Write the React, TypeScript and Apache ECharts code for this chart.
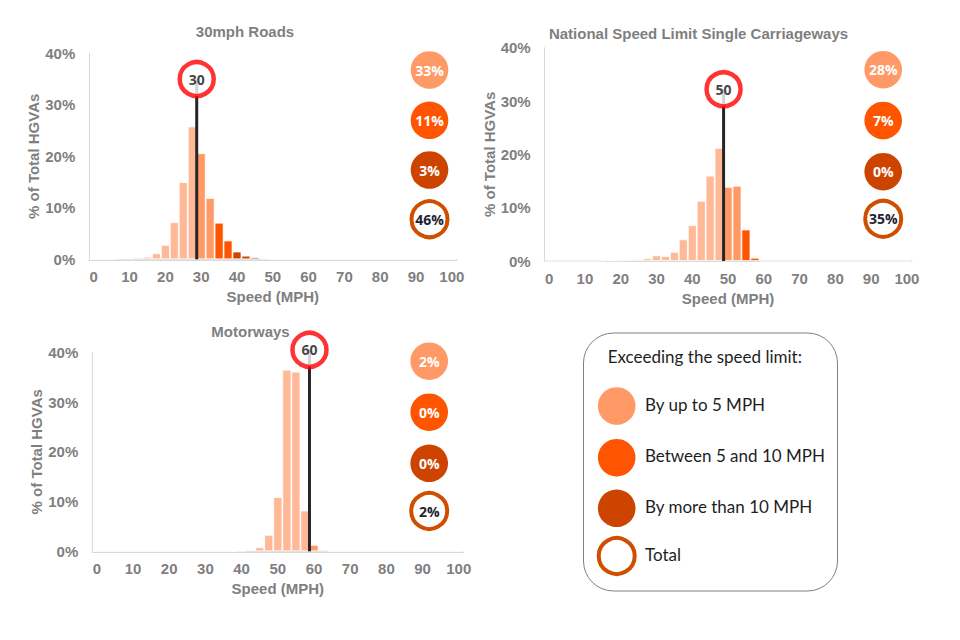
import React, { useEffect, useRef } from "react";
import * as echarts from "echarts";

// ---- Data ----
const speedBins = [
  "0", "2.5", "5", "7.5", "10", "12.5", "15", "17.5", "20", "22.5",
  "25", "27.5", "30", "32.5", "35", "37.5", "40", "42.5", "45", "47.5",
  "50", "52.5", "55", "57.5", "60", "62.5", "65", "67.5", "70", "72.5",
  "75", "77.5", "80", "82.5", "85", "87.5", "90", "92.5", "95", "97.5", "100",
];
const binWidth = 2.5;

const roads30 = [
  0, 0, 0, 0.15, 0.2, 0.35, 0.5, 1.15, 2.8, 7.2,
  15, 25.8, 20.6, 11.9, 7.1, 3.65, 1.5, 0.7, 0.4, 0.15,
  0, 0, 0, 0, 0, 0, 0, 0, 0, 0,
  0, 0, 0, 0, 0, 0, 0, 0, 0, 0, 0,
];
const nslSingle = [
  0, 0, 0, 0, 0, 0, 0.1, 0.12, 0.12, 0.25,
  0.3, 0.5, 1.06, 0.93, 1.7, 4.05, 6.7, 11.3, 16, 21.2,
  13.9, 14.1, 5.9, 0.6, 0, 0, 0, 0, 0, 0,
  0, 0, 0, 0, 0, 0, 0, 0, 0, 0, 0,
];
const motorways = [
  0, 0, 0, 0, 0, 0, 0, 0, 0, 0,
  0, 0, 0, 0, 0, 0, 0.1, 0.3, 0.8, 3.3,
  10.9, 36.5, 36.1, 8.2, 1.3, 0.3, 0, 0, 0, 0,
  0, 0, 0, 0, 0, 0, 0, 0, 0, 0, 0,
];

const chartTitles = ["30mph Roads", "National Speed Limit Single Carriageways", "Motorways"];
const speedLimits = [30, 50, 60];
const signLevels = [35, 32.2, 40.5];
const yTicks = [0, 10, 20, 30, 40];

const exceedUpTo5 = ["33%", "28%", "2%"];
const exceed5to10 = ["11%", "7%", "0%"];
const exceedOver10 = ["3%", "0%", "0%"];
const exceedTotal = ["46%", "35%", "2%"];

const legendTitle = "Exceeding the speed limit:";
const legendLabels = ["By up to 5 MPH", "Between 5 and 10 MPH", "By more than 10 MPH", "Total"];

// ---- Styles ----
const FONT = '"Liberation Sans", Arial, sans-serif';
const BADGE_FONT = '"Open Sans", "Noto Sans", sans-serif';
const GRAY = "#7F7F7F";
const C_BELOW = "#FFB996";
const C_UP5 = "#FF9966";
const C_5TO10 = "#FF5500";
const C_OVER10 = "#CC4400";
const C_RING = "#D04E00";

const layouts = [
  { left: 89.3, top: 53.3, width: 367, height: 206, yNameGap: 46, titleX: 245, titleY: 31.7, circX: 429.5, circY: [70, 120.3, 170, 219.2] },
  { left: 544.7, top: 47.7, width: 366.7, height: 213.3, yNameGap: 46.7, titleX: 698.5, titleY: 33.3, circX: 883.2, circY: [69.7, 120.5, 171.7, 218.8] },
  { left: 92.3, top: 352.3, width: 371, height: 199, yNameGap: 43.6, titleX: 250.5, titleY: 331.7, circX: 429.2, circY: [361.2, 412.2, 463.3, 511] },
];

function barColor(binIndex: number, limit: number) {
  const d = binIndex * binWidth - limit;
  if (d < 0) return C_BELOW;
  if (d < 5) return C_UP5;
  if (d < 10) return C_5TO10;
  return C_OVER10;
}

export default function App() {
  const ref = useRef<HTMLDivElement>(null);

  useEffect(() => {
    if (!ref.current) return;
    const chart = echarts.init(ref.current, null, { renderer: "svg" });
    const datasets = [roads30, nslSingle, motorways];

    const grid: any[] = [];
    const xAxis: any[] = [];
    const yAxis: any[] = [];
    const series: any[] = [];
    const graphic: any[] = [];

    layouts.forEach((L, i) => {
      grid.push({ left: L.left, top: L.top, width: L.width, height: L.height, containLabel: false });
      xAxis.push({
        type: "category",
        gridIndex: i,
        data: speedBins,
        boundaryGap: true,
        axisLine: { show: true, lineStyle: { color: "#D9D9D9", width: 2 } },
        axisTick: { show: false },
        axisLabel: { interval: 3, color: GRAY, fontSize: 15, fontWeight: "bold", fontFamily: FONT, margin: 10 },
        name: "Speed (MPH)",
        nameLocation: "middle",
        nameGap: 30,
        nameTextStyle: { color: GRAY, fontSize: 15, fontWeight: "bold", fontFamily: FONT },
      });
      xAxis.push({
        type: "value",
        gridIndex: i,
        min: 0,
        max: speedBins.length * binWidth,
        show: false,
      });
      yAxis.push({
        type: "value",
        gridIndex: i,
        min: 0,
        max: yTicks[yTicks.length - 1],
        interval: 10,
        axisLine: { show: true, lineStyle: { color: "#D9D9D9", width: 1 } },
        axisTick: { show: false },
        splitLine: { show: false },
        axisLabel: { formatter: "{value}%", color: GRAY, fontSize: 15, fontWeight: "bold", fontFamily: FONT, margin: 14 },
        name: "% of Total HGVAs",
        nameLocation: "middle",
        nameRotate: 90,
        nameGap: L.yNameGap,
        nameTextStyle: { color: GRAY, fontSize: 15, fontWeight: "bold", fontFamily: FONT },
      });

      const limit = speedLimits[i];
      series.push({
        type: "bar",
        xAxisIndex: i * 2,
        yAxisIndex: i,
        barCategoryGap: "0%",
        data: datasets[i].map((v, k) => ({
          value: v,
          itemStyle: { color: barColor(k, limit), borderColor: "#ffffff", borderWidth: 0.8 },
        })),
      });
      series.push({
        type: "line",
        xAxisIndex: i * 2 + 1,
        yAxisIndex: i,
        data: [[limit, 0], [limit, signLevels[i]]],
        symbol: "none",
        clip: false,
        lineStyle: { color: "#262626", width: 3 },
        z: 3,
      });
      series.push({
        type: "scatter",
        xAxisIndex: i * 2 + 1,
        yAxisIndex: i,
        data: [[limit, signLevels[i]]],
        symbol: "circle",
        symbolSize: 34,
        clip: false,
        itemStyle: { color: "#ffffff", borderColor: "#FF0000", borderWidth: 4.5 },
        label: {
          show: true,
          position: "inside",
          formatter: String(limit),
          color: "#111",
          fontSize: 14,
          fontWeight: "bold",
          fontFamily: BADGE_FONT,
        },
        z: 4,
      });

      // title
      graphic.push({
        type: "text",
        x: L.titleX,
        y: L.titleY,
        style: {
          text: chartTitles[i],
          fill: GRAY,
          fontSize: 15,
          fontWeight: "bold",
          fontFamily: FONT,
          align: "center",
          verticalAlign: "middle",
        },
      });

      // exceedance circles
      const fills = [C_UP5, C_5TO10, C_OVER10];
      const texts = [exceedUpTo5[i], exceed5to10[i], exceedOver10[i]];
      fills.forEach((f, k) => {
        graphic.push({ type: "circle", shape: { cx: L.circX, cy: L.circY[k], r: 18.8 }, style: { fill: f } });
        graphic.push({
          type: "text",
          x: L.circX,
          y: L.circY[k],
          style: {
            text: texts[k],
            fill: "#ffffff",
            fontSize: 14,
            fontWeight: "bold",
            fontFamily: BADGE_FONT,
            align: "center",
            verticalAlign: "middle",
          },
        });
      });
      graphic.push({
        type: "circle",
        shape: { cx: L.circX, cy: L.circY[3], r: 18 },
        style: { fill: "#ffffff", stroke: C_RING, lineWidth: 4 },
      });
      graphic.push({
        type: "text",
        x: L.circX,
        y: L.circY[3],
        style: {
          text: exceedTotal[i],
          fill: "#1f2430",
          fontSize: 14,
          fontWeight: "bold",
          fontFamily: BADGE_FONT,
          align: "center",
          verticalAlign: "middle",
        },
      });
    });

    // legend box
    const LFONT = 'Lato, "Open Sans", sans-serif';
    graphic.push({
      type: "rect",
      shape: { x: 583.5, y: 333, width: 254, height: 258, r: 30 },
      style: { fill: "#ffffff", stroke: "#808080", lineWidth: 1 },
      z: -1,
    });
    graphic.push({
      type: "text",
      x: 607.7,
      y: 356.7,
      style: { text: legendTitle, fill: "#1e1e1e", fontSize: 17, fontFamily: LFONT, verticalAlign: "middle" },
    });
    const legY = [406, 457.7, 508.3, 556];
    const legFills = [C_UP5, C_5TO10, C_OVER10];
    legendLabels.forEach((lab, k) => {
      if (k < 3) {
        graphic.push({ type: "circle", shape: { cx: 616.7, cy: legY[k], r: 18.8 }, style: { fill: legFills[k] } });
      } else {
        graphic.push({
          type: "circle",
          shape: { cx: 616.7, cy: legY[k], r: 18 },
          style: { fill: "#ffffff", stroke: C_RING, lineWidth: 4 },
        });
      }
      graphic.push({
        type: "text",
        x: 645,
        y: legY[k] - 2,
        style: { text: lab, fill: "#1e1e1e", fontSize: 17, fontFamily: LFONT, verticalAlign: "middle" },
      });
    });

    chart.setOption({
      animation: false,
      backgroundColor: "#ffffff",
      grid,
      xAxis,
      yAxis,
      series,
      graphic,
    });

    return () => chart.dispose();
  }, []);

  return (
    <div
      ref={ref}
      style={{ position: "absolute", left: 0, top: 0, width: 960, height: 640, background: "#fff" }}
    />
  );
}
